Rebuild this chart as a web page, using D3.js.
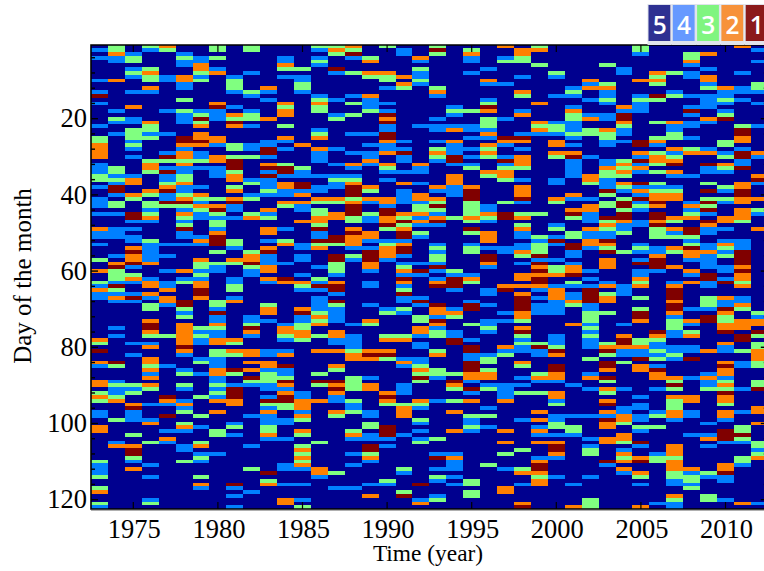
<!DOCTYPE html>
<html>
<head>
<meta charset="utf-8">
<script src="https://cdnjs.cloudflare.com/ajax/libs/d3/7.8.5/d3.min.js"></script>
<style>
  html, body { margin: 0; padding: 0; background: #fff; overflow: hidden; }
  svg { display: block; }
  text { font-family: "Liberation Serif", serif; fill: #000; }
</style>
</head>
<body>
<div id="chart"></div>
<script>
var years = d3.range(1973, 2013);
var days = d3.range(1, 123);
var legendClasses = [5, 4, 3, 2, 1];
var yTickLabels = [20, 40, 60, 80, 100, 120];
var xTickLabels = [1975, 1980, 1985, 1990, 1995, 2000, 2005, 2010];

// one string per year, "day:class" or "firstDay-lastDay:class". days not listed are class 5
var yearRuns = [
  "2:4,4:4,10:4,13:4,14:1,16:4,22:4,25-26:3,27-30:2,32-34:4,35-36:3,38:4,41:4,42-43:4,45:4,49:2,50-51:4,53:4,57:3,60:2,63:3,64:4,65:2,66-67:4,78:2,79:3,81:1,84:2,85:4,89-90:2,92:3,93:2,94:3,97-98:4,101-102:2,110:3,111-113:4,114:3,117:3,118:2,121:3,122:4",
  "1-2:3,3:2,4-5:4,10:2,18:4,20:3,21:4,24:4,33-34:3,35:4,36:3,37:4,38-39:1,40:4,42-43:3,45:4,49-51:4,56:4,58:2,59:1,60-62:3,63:4,64:1,65:3,66:4,67:2,68:4,75:4,77:4,84:1,85:3,89:4,90:3,91-92:4,93:3,94:2,99:3,105:4,106:2",
  "3:4,4-5:3,7:4,8:3,9:4,13:4,17:2,20-21:4,23-25:3,26:4,27:3,28:4,30:4,35:4,36-37:2,40:2,41:3,45-46:1,47:4,49:4,51-52:4,54:2,55:1,56-57:2,58:1,59:4,61:3,62:2,63:4,66:4,67:1,68:4,79:4,82:4,90:3,91:4,92:3,95:2,96:1,97-99:4,103:3,106:2,107-108:1,109:3,110:4,112:2",
  "1:3,2:4,7:3,8:2,9-10:3,12:2,13:4,21:2,22-23:3,24:4,25:3,31:3,32-33:2,34:3,39:2,40:3,42-43:3,44:4,45:3,46:2,47:4,52:3,53-57:4,58:2,62:4,63-64:2,66:2,67:4,69-70:3,73:2,74-75:1,76:2,77:3,79:4,80:2,83:2,84:2,85:3,86:2,87:4,88:2,90:2,91:3,95:4,99:4,100:2,105:3,111:4,114:4,120:4,121:3",
  "1:2,2:3,9-10:4,18:4,24:4,29:4,30:1,31:3,33:4,34:1,35-36:4,37:3,38:2,39:1,40-41:4,42:1,43:3,53:4,56:4,60:4,63-64:4,65:2,67-68:2,69:4,77:3,85:4,93:1,94:2,95:4,98:1,102:4,104:2,105:4",
  "3:4,4:3,5-6:4,9-10:2,11-12:4,15:3,18:3,19-21:4,25-26:1,27:2,28:4,29-30:2,31:3,32:2,33-34:4,35-36:3,37:2,38-39:4,40:3,41:2,42:1,43:3,44:4,45:2,46:3,47:4,48:3,49:1,50-51:4,53:4,60:2,62:4,63:3,68-69:1,70:3,71:4,72:3,74-79:2,80:1,81:2,82:4,86:4,87:3,90:3,91:4,94:4,95:2,96:4,97:3,100:3,101:2,102:4,106-107:4,110:3",
  "4-5:4,6-7:2,8:3,9:4,10:3,18:4,19:3,20:1,21:3,22:2,24-25:2,26:1,27:2,29-30:4,31:3,33:4,38:4,40:2,41:3,42:4,43:2,44:3,45-46:4,51:4,52:2,53:4,57:2,58-59:3,60:4,61:3,62:4,63-64:2,65-66:1,67:2,75:3,76:4,77:3,78-79:4,83:4,84:3,87:4,93:3,98:3,101:4,105:3,106:2,108:4,109:3,110:4,114:3,116:2,117:4",
  "1-2:3,4:3,7:4,8:2,16:2,17:1,18-20:4,25-26:2,27:4,30-31:2,33-35:4,41:3,43:2,44:1,45:3,46:4,47-48:3,49:4,50:2,51-53:1,55:3,58:3,59-60:4,68-69:3,70:4,71:1,72-73:4,74:2,75:3,76-77:4,78-79:2,81-82:3,83:4,84-85:4,86-87:2,88-89:4,90:3,91:4,92:3,93:4,94:2,97:2,102-103:3,108:4",
  "9:4,10-12:3,13:4,17:4,19:2,20:3,21:1,22:2,27-28:3,30:3,31-33:1,34:3,35-36:2,38:3,39:2,41:2,42:1,43-44:4,46:4,52-53:3,54:4,57:2,58:3,62-63:4,64-65:3,67:4,68:2,78:2,79:3,81:2,82:3,86:1,87:3,90:4,91-93:1,94-95:2,100:4,101:3,103:4,116:1,117:4,119:4,122:4",
  "1-2:3,8:4,13:3,14:4,18:4,19-20:3,22:4,27-28:4,30:3,36:4,37:3,40:4,41:3,45:3,46:2,55:3,56-57:2,58:1,59:3,60-61:4,72-73:4,74:3,75:1,76:2,77:4,81-82:2,84:2,86:2,88:1,89:3,90:4,98:4,106:4,112:3,118:4",
  "12:2,13:4,15:4,20:2,26-27:4,28-29:1,30:4,32:2,33:1,34:4,35:1,36-38:4,39:3,40:4,44:2,45:4,46:3,49-50:2,52:4,54:2,55:1,56-58:4,59-60:2,62:2,63:4,69:3,70-71:2,73:4,81-82:4,84-85:2,86:4,87-89:3,90-91:4,93:4,94:1,95:3,96:4,97:2,98-100:4,101-102:3,103:2,104:4,113:1,115:3,116:2",
  "4-5:4,6:2,7:3,9:4,16:2,17:3,18-19:2,22:3,25:2,26:4,28:4,32:3,33-34:1,35:4,37-38:2,39-40:4,42:2,43:3,49:4,52:3,53:2,58:4,62:1,63:2,74:4,75-76:2,77:3,78:4,81:4,82:2,85:1,86-87:4,88:3,89:1,90:2,91:4,92:2,93-94:1,95-96:3,99-100:4,104:4,111-112:4,116:4,120-121:2",
  "7:3,9-10:4,11-12:3,13:4,27:2,33:3,34-35:4,37-38:1,39:4,40:2,42:2,43-44:4,47:2,53-54:4,56-57:4,61:4,63:2,64:3,65:4,70:2,71:1,72-73:4,74-75:3,76-77:2,78:3,92-93:4,94-96:2,97:4,98:2,99:3,102:2,103:3,106:3,107:2,108:3,109:2,110:3,111:2,112:4,116:4,120:4,122:3",
  "1:3,2:4,4:4,5:3,6:4,14:4,15:3,16:2,17-18:3,23:4,24:3,25:2,28:2,29-31:4,35:4,38-39:4,41:2,42:3,44-45:3,46-47:2,48:3,49:1,50-51:4,52:1,53:3,54:2,59:4,62:3,63:4,64:1,65:4,67-70:4,71:3,72:2,73:3,74:2,77:3,81:2,87:3,89:1,90:3,94:2,105:3,112-113:2,114:4",
  "1:3,2:2,3:3,7:1,8:4,15:4,19:4,20:3,28:4,32:4,35:4,36:3,37-38:4,41:2,42:3,45-46:2,51-52:1,53:3,56-57:1,58-60:3,61:4,63:2,64-65:1,66:4,68:1,69:3,70-73:4,76-77:2,78-79:4,81:2,85:2,86:3,89:1,90:2,91:1,92:2,93-94:4,97:2,98:3,113:3,117:4",
  "1:2,2:3,3:1,4:4,8:3,14:4,16:3,19:3,24:4,29:4,32:2,33:4,35:4,36:3,37:2,38-40:1,41:3,42:2,43-45:1,46-47:3,49:2,50:1,51-53:2,54:4,56:3,57:4,74:4,77-80:4,81:3,82-83:2,88-91:3,94:3,95-96:4,97:3,102:3,103:2,104:4,108:4,111:4,117:4",
  "4:3,5:2,8:2,9:3,14:2,15-17:4,18:3,24:4,27:4,29-30:4,31:2,32:4,38:2,39:3,41:2,42:4,45:3,46-47:4,50-51:2,52:4,54:4,55-57:1,58-59:2,60:4,63-64:4,69:4,73:2,74:3,81:2,82:1,83:2,88:4,90-91:2,97-98:4,100-101:3,103-104:4,106-107:1,108:3,109:2,110:4,116:4,119:2",
  "1:3,8:2,9-10:3,12:4,16:4,18:4,19:1,20:2,21:1,22-23:4,24-25:1,26:2,27-28:4,29:2,32:2,33:3,34:4,36:4,41:2,42:2,43:4,44-45:1,46-47:2,48:1,49:3,52:4,53:3,54-56:2,57:4,70:4,71:3,77:3,78:2,81:2,82:1,83:3,92:2,93:1,94:2,95:3,101-103:1,104:4,106:4,115:3,116:4",
  "2-3:4,9:2,11:2,12:3,26:4,28:4,29:1,30-31:4,34:4,37:2,39-41:4,42:4,45:2,46:3,47:1,48:3,49:2,50-51:1,52:4,53:2,54-55:1,56:4,58:4,59:3,60:2,61:4,62:1,63:2,64:4,65:3,66:1,67-68:4,70:3,71:4,77:3,78:2,83:4,84:2,85:4,90-92:4,95:3,96-98:2,103:4,112:3,113:4,118:3,119:1",
  "4:2,5:4,7:3,8-9:4,10:3,11:4,22:4,32:2,33-34:4,37:4,40-41:2,42:4,43-44:3,45:2,46:4,47:2,48:4,50:3,51:4,58:4,60:1,61:4,67:4,68:1,69:4,72-73:3,75-76:2,77:4,79-80:4,83:4,84:4,85:3,86:2,87:3,88:1,89:3,94:2,95:3,96:4,99:3,100:4,102:4,104:4,105:3,116:1,120:4,121:2",
  "1:3,2:1,3:3,12:3,13:2,14:4,20:4,22-23:4,26:4,28:3,29:2,30:3,31:4,38:2,39:4,41:2,42:3,43:1,44:3,45:4,46:2,47:1,48:4,53:4,54:3,55:4,56-57:3,58:4,59:1,60:4,62:4,63:2,64:1,69:1,70-71:2,72:4,73:1,74:2,75:4,76-77:3,81:3,82:2,86-87:3,88:4,94:4,104:3,108:4,109:1,112:4,114:3,115:4,119:4,120:3",
  "17:4,18:3,19:4,22:4,23:2,26:2,27-29:4,30-31:1,32:4,35-37:2,38-40:4,46:3,60:3,61:4,62-64:1,65:4,70:4,71:2,72:3,76-77:4,78-79:1,87:3,89:1,90:2,91:3,94:3,97:2,102:2,108:4,109:2,110-112:4,114:4,116:4",
  "2:3,3:2,4-5:4,8:4,18:3,22-23:4,25:4,28:4,30:4,32:4,33:3,38:2,39-41:1,42-45:3,46:2,47:3,49:1,50:3,53:4,54-55:3,61:4,62:2,63:3,68:4,69-70:1,74:3,78:4,80-81:1,82-83:4,84-86:1,87-88:2,89:4,91:1,92:4,94:2,98:3,99-100:4,101:3,102:4,115-116:3,118-119:3",
  "7:4,10:2,11:4,15:4,16:3,17:1,18:2,20-22:3,23:4,24:2,25:4,27:2,28:3,29:2,30:3,34:2,35:3,43-44:4,45:2,46:3,47:4,50-52:2,54:4,56-57:1,58:2,59:4,65-66:4,69:4,73-74:4,75:3,76:4,82:4,83:3,84:3,86:3,87-88:2,90:4,91:3,96:4,98:3,101:4,111:3",
  "1:2,4:4,5:3,11:4,20:4,25:1,26:2,27:4,30:4,31:1,32:4,33:3,34-35:2,36:3,42:3,45-46:1,54-55:4,64:2,65:1,71:4,73:4,80:2,81:4,82:3,90-93:4,94:2,102:2,105:2,108:3,112:4,117-118:2",
  "2-3:2,4-5:3,9:4,13:2,14:3,18:4,19:2,24:4,25:1,26:2,28:4,30-32:2,33:3,36:4,38-40:2,41:1,42:4,45:3,46:2,48:3,49:2,50-51:4,53-54:4,55:2,56:3,58:4,61-62:2,64:2,66:2,67-70:1,71-72:2,73:3,75:2,76:1,77:3,78:4,79:3,80-81:4,84:2,85:3,88:4,90:4,92:3,99:4,107:3,112:3,113:2,116:4,121:2,122:1",
  "1:3,2:2,6:3,16:2,21:2,22:3,23:2,24:4,45:3,51:3,52:4,53-55:3,56:1,57:4,58:1,59:2,60:1,61:2,62-63:1,64:2,65:4,67:4,69-71:4,79:3,80:1,81-82:4,87:3,88:2,89:4,92:3,97:2,99:2,101:4,102:2,103:4,105:2,109:4,110:2,111-112:1,113:2,114:3,115-116:2",
  "8:3,9:4,14:4,21:4,22-23:3,24:4,26-27:2,29:2,30:3,36-37:4,41:2,42:3,48:4,49:3,51:4,52:1,53:4,57:4,59-60:3,61:2,64:4,65-67:2,68-71:4,77-79:4,80:3,81:1,82:2,85-86:1,87-88:2,89:4,92-93:2,94:4,95:3,98-99:4,100-101:3,103:4,105:2,106-107:1,108:2,109:4,114:4",
  "12:4,13:3,14:4,17:4,18:2,19-20:3,21-23:4,24:3,25:4,27:4,29:2,30:1,31-35:4,40:2,41:4,44:2,45:1,46:3,50-51:3,53-54:1,55-56:4,58:4,59-60:2,61:1,63:3,64:4,66-67:4,68:2,69:3,74:2,90:4,98:4,101-102:3,103:4,116:4,122:2",
  "10:2,11:4,12:2,15:4,19:4,20:2,23-24:3,30:4,35-36:2,37:3,41:4,43-44:2,45-47:4,49:2,50-51:4,52-53:2,54:4,60:4,62:4,64:4,65-68:1,69:4,70:4,71-73:3,74:4,75:3,76:4,77:3,78-80:4,83:3,87:4,88:2,91:4,98:4,104:4,106:4,107-108:3,114:4,120-122:3",
  "6:3,11:3,12:2,13-14:4,15:3,16:4,19-20:4,23:2,24-25:3,26-27:4,31-32:4,33:2,34-35:3,36-38:4,39:1,40:3,42-43:3,46:1,47:3,48:2,49:3,50-51:4,52:1,53:2,54:3,55:1,57-59:2,63:4,64:2,66:3,67-68:2,71:3,79:3,80:2,81:1,82:3,84-85:1,86:2,88:1,89:3,91:2,92:3,94:2,95:1,97:2,98:4,99:1,100-101:2,104-105:2,110:1,111:4",
  "7-8:4,17:2,18:4,19-20:1,21:2,22:3,23-24:4,26:4,31:3,32:2,33:3,34:2,35:3,37:2,38:3,39:4,41:3,42-43:1,44:3,45-46:1,47:2,48-49:4,50:3,55:3,64-66:4,74:4,77:2,78-79:1,80:2,81-82:4,84:3,91:4,96-97:4,98-99:2,100:3,103-104:2,105:3,107:4,108:2,109:3,110:2,112:2,113:4",
  "1-2:3,3:4,10:2,14:4,15:3,16-18:4,26-27:1,29:2,30:4,31:1,32:4,33:2,34:4,37:1,38:4,39:2,40:4,41:1,42:4,43:3,44:4,47-48:4,53:4,54:3,55:4,57:4,58:1,60-61:4,62:2,63:3,64:2,67:3,70:3,71-72:1,73:2,78-79:3,80:2,81-82:4,83:1,85-86:2,93:4,95-96:4,98-99:4,101:3,102:4,105:1,106:4,109:2,110:1,113:2,114:3,116:4,122:2",
  "8:2,9:3,10:2,11:3,14:1,15:3,21:3,25:3,26:2,27:4,29:3,30-31:2,32:3,34:3,37:3,38:4,39:3,40-41:2,42:1,43:2,45-46:1,47:2,48:1,49-51:3,54-55:4,56:2,57-59:1,60:4,76:1,77:2,78:3,79-80:4,81:3,82:4,83:3,85:4,86:1,87-88:2,91:4,97:4,98:3,101:3,108:4,109-110:3,121:4",
  "8:3,13:4,14:3,21:2,22-23:4,24-25:3,28:2,29:4,30:3,31:2,32:1,34:2,35:4,38:4,39:3,40-41:2,46:2,47:3,49:2,50:4,51:3,54:2,55:3,59:2,63:4,64:2,65-67:1,68:2,69-70:1,71:2,72:4,73-75:3,76-77:4,80-81:4,82:3,83:4,88:2,89:3,90:1,91:3,93:2,94-96:3,97-98:2,99:4,106-108:2,109:3,110-112:2,113-114:3,115-116:4,119:2,120:3,121-122:4",
  "3-4:3,5:2,6:4,8-9:4,14:4,17:4,18:1,19:4,21-22:4,25:4,28:3,29:2,35:4,42:4,43:2,44:4,45:3,46:2,49-50:1,51:3,52:4,53:3,54:1,55-56:2,57:4,60:2,61:4,63:2,70:4,73:2,74:4,76:3,77:2,80-81:4,83:1,88:4,93-94:2,97-98:4,103:4,112:2,113:4,114-115:3,116:4,117:3",
  "3:2,7:4,9-10:2,11:4,12:3,14-17:4,20:2,21:4,28:4,29:2,32:1,33-34:4,37:3,39:1,41:3,42:1,43:3,44:1,45:4,47:1,48:2,49-50:4,53-54:4,55:2,56-59:4,61-62:1,63-64:4,67-69:3,70:4,72-73:1,81:2,87:4,88:2,89-90:4,91:3,100:4,103:4,104:2,106:4,113:3,114:4,119-120:3",
  "12:2,13-14:4,15:3,16:4,18:4,19:3,20:1,26-27:3,29:4,30:3,32:2,33:3,34:4,38:3,39:4,41:3,42:4,46-47:2,49:4,52:4,53:2,54:3,55:4,56:3,59-60:4,62:4,63:1,67:2,68-69:4,70:1,71:2,72-73:3,74-75:2,76:1,79:2,80-81:4,84:2,85:1,86-87:2,88:4,89:3,90:2,91:3,92:1,93-94:2,95:3,97-98:2,99:4,102-104:1,105:4,111-112:2,113:1,114-115:4,120:4",
  "1:2,8:4,12-13:4,15:4,22:3,23-24:1,25-26:2,28:4,29-30:1,31-32:4,33:1,37-38:2,39-40:1,41:2,42:2,44-46:2,47:3,52-54:4,55-58:1,59:2,60:1,61-62:2,63:3,64:2,67-68:4,69:2,70:3,73-75:2,77-78:1,81:3,84-85:4,91:4,97:4,101-102:3,103:1,104:3,105:4,109-110:3,111:4,121:2",
  "2:4,5:4,11-12:3,13:4,16:4,22:4,29:2,30:4,35:2,36:1,37:4,41:2,44:3,45:4,49:2,71:3,72:4,73-74:2,76:1,77:3,79-80:3,81-83:2,84-85:3,89-90:3,91:1,96-97:2,100:2,105-106:3,107:4,108:3,109:2,121:4"
];

var classColors = { 5: "#00008f", 4: "#0080ff", 3: "#80ff80", 2: "#ff8000", 1: "#800000" };
var legendFill = { 5: "#2e3192", 4: "#6699ff", 3: "#80f580", 2: "#f7923a", 1: "#8b1a1a" };

// expand the runs into one cell per year and day
var cells = [];
yearRuns.forEach(function (runs, i) {
  var column = {};
  runs.split(",").forEach(function (run) {
    var parts = run.split(":");
    var span = parts[0].split("-").map(Number);
    var last = span.length > 1 ? span[1] : span[0];
    for (var d = span[0]; d <= last; d++) column[d] = +parts[1];
  });
  days.forEach(function (d) {
    cells.push({ year: years[i], day: d, value: column[d] || 5 });
  });
});

var width = 764, height = 571;
var plot = { left: 91, right: 767.8, top: 45, bottom: 509 };

var svg = d3.select("#chart").append("svg")
  .attr("width", width)
  .attr("height", height);

var x = d3.scaleBand().domain(years).range([plot.left, plot.right]);
var y = d3.scaleBand().domain(days).range([44.4, 509.2]);

svg.append("clipPath").attr("id", "plot-clip")
  .append("rect")
  .attr("x", plot.left).attr("y", plot.top)
  .attr("width", plot.right - plot.left).attr("height", plot.bottom - plot.top);

svg.append("g").attr("clip-path", "url(#plot-clip)")
  .attr("shape-rendering", "crispEdges")
  .selectAll("rect")
  .data(cells)
  .enter()
  .append("rect")
  .attr("x", function (d) { return x(d.year); })
  .attr("y", function (d) { return y(d.day); })
  .attr("width", x.bandwidth() + 0.5)
  .attr("height", y.bandwidth() + 0.5)
  .attr("fill", function (d) { return classColors[d.value]; });

// frame, with the pale line the reference has under the bottom edge
svg.append("line")
  .attr("x1", plot.left).attr("x2", width)
  .attr("y1", plot.bottom + 1.5).attr("y2", plot.bottom + 1.5)
  .attr("stroke", "#b0b0b0").attr("stroke-width", 1);
svg.append("path")
  .attr("d", "M" + plot.right + "," + plot.top + "H" + plot.left + "V" + plot.bottom + "H" + plot.right)
  .attr("fill", "none").attr("stroke", "#000").attr("stroke-width", 1.6);

// ticks point inwards, labels are added by hand so they can sit outside
function yPos(d) { return y(d) + y.bandwidth() / 2; }
function xPos(d) { return x(d) + x.bandwidth() / 2; }

var minorDays = days.filter(function (d) { return d % 4 === 0 && d % 20 !== 0; });
var tickSets = [
  { values: minorDays, len: 4 },
  { values: yTickLabels, len: 7 }
];
tickSets.forEach(function (set) {
  svg.append("g").selectAll("line").data(set.values).enter().append("line")
    .attr("x1", plot.left).attr("x2", plot.left + set.len)
    .attr("y1", yPos).attr("y2", yPos)
    .attr("stroke", "#000").attr("stroke-width", 1.4);
  svg.append("g").selectAll("line").data(set.values).enter().append("line")
    .attr("x1", plot.right).attr("x2", plot.right - set.len)
    .attr("y1", yPos).attr("y2", yPos)
    .attr("stroke", "#000").attr("stroke-width", 1.4);
});

svg.append("g").selectAll("line").data(xTickLabels).enter().append("line")
  .attr("x1", xPos).attr("x2", xPos)
  .attr("y1", plot.top).attr("y2", plot.top + 7)
  .attr("stroke", "#000").attr("stroke-width", 1.2);
svg.append("g").selectAll("line").data(xTickLabels).enter().append("line")
  .attr("x1", xPos).attr("x2", xPos)
  .attr("y1", plot.bottom).attr("y2", plot.bottom - 7)
  .attr("stroke", "#000").attr("stroke-width", 1.2);

svg.append("g").selectAll("text").data(yTickLabels).enter().append("text")
  .attr("x", 87)
  .attr("y", yPos)
  .attr("dy", "0.33em")
  .attr("text-anchor", "end")
  .attr("font-size", 26.5)
  .text(function (d) { return d; });

svg.append("g").selectAll("text").data(xTickLabels).enter().append("text")
  .attr("x", function (d) { return xPos(d) + 1; })
  .attr("y", 538)
  .attr("text-anchor", "middle")
  .attr("font-size", 26.5)
  .text(function (d) { return d; });

svg.append("text")
  .attr("x", 428).attr("y", 561)
  .attr("text-anchor", "middle")
  .attr("font-size", 23.4)
  .text("Time (year)");

svg.append("text")
  .attr("transform", "translate(31,276) rotate(-90)")
  .attr("text-anchor", "middle")
  .attr("font-size", 25)
  .text("Day of the month");

// legend boxes at the top right
var legendX = d3.scaleBand().domain(legendClasses).range([647.5, 769]);
var legend = svg.append("g").selectAll("g").data(legendClasses).enter().append("g");
legend.append("rect")
  .attr("x", function (d) { return legendX(d); })
  .attr("y", 4)
  .attr("width", legendX.bandwidth())
  .attr("height", 41)
  .attr("fill", "#dfe3ec");
legend.append("rect")
  .attr("x", function (d) { return legendX(d) + 1; })
  .attr("y", 5)
  .attr("width", legendX.bandwidth() - 2.5)
  .attr("height", 36)
  .attr("fill", function (d) { return legendFill[d]; });
legend.append("text")
  .attr("x", function (d) { return legendX(d) + legendX.bandwidth() / 2; })
  .attr("y", 33.5)
  .attr("text-anchor", "middle")
  .attr("font-size", 24.5)
  .style("font-family", "'Open Sans', sans-serif")
  .style("font-weight", 600)
  .style("fill", "#fff")
  .text(function (d) { return d; });
</script>
</body>
</html>
